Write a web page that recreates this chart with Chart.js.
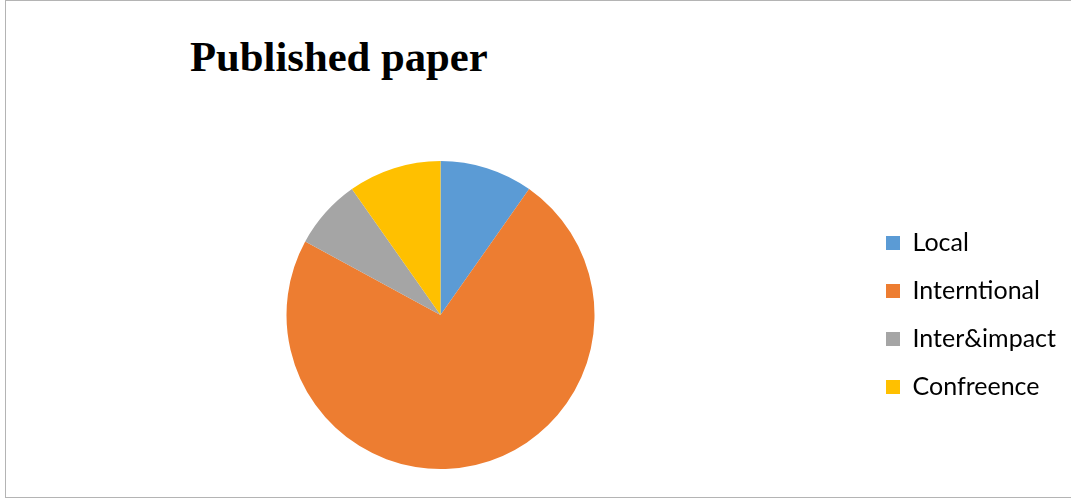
<!DOCTYPE html>
<html lang="en">
<head>
    <meta charset="UTF-8">
    <title>Published paper</title>
    <script src="https://cdn.jsdelivr.net/npm/chart.js"></script>
    <style>
        html, body {
            margin: 0;
            padding: 0;
            background-color: #ffffff;
        }
        .frame {
            position: absolute;
            left: 5px;
            top: 0;
            width: 1080px;
            height: 496px;
            border-left: 1px solid #b4b4b4;
            border-top: 1px solid #b4b4b4;
            border-bottom: 1px solid #b4b4b4;
        }
        .title {
            position: absolute;
            left: 190px;
            top: 32px;
            font-family: "Liberation Serif", serif;
            font-weight: bold;
            font-size: 42.7px;
            line-height: 50px;
            color: #000;
            white-space: nowrap;
        }
        .chart-box {
            position: absolute;
            left: 0;
            top: 0;
            width: 1071px;
            height: 498px;
        }
    </style>
</head>
<body>
    <div class="frame"></div>
    <div class="title">Published paper</div>
    <div class="chart-box"><canvas id="pie"></canvas></div>

    <script>
        const categories = ["Local", "Interntional", "Inter&impact", "Confreence"];
        const papers = [4, 30, 3, 4];
        const sliceColors = ["#5B9BD5", "#ED7D31", "#A5A5A5", "#FFC000"];

        const ctx = document.getElementById("pie").getContext("2d");
        new Chart(ctx, {
            type: 'pie',
            data: {
                labels: categories,
                datasets: [{
                    data: papers,
                    backgroundColor: sliceColors,
                    borderWidth: 0,
                }],
            },
            options: {
                responsive: true,
                maintainAspectRatio: false,
                animation: false,
                layout: {
                    padding: { top: 161, bottom: 29, left: 18, right: 5 }
                },
                plugins: {
                    title: { display: false },
                    tooltip: { enabled: false },
                    legend: {
                        position: 'right',
                        labels: {
                            font: { family: 'Lato', size: 25 },
                            color: '#000',
                            boxWidth: 14,
                            boxHeight: 14,
                            padding: 23,
                        },
                    },
                },
            },
        });
    </script>
</body>
</html>
